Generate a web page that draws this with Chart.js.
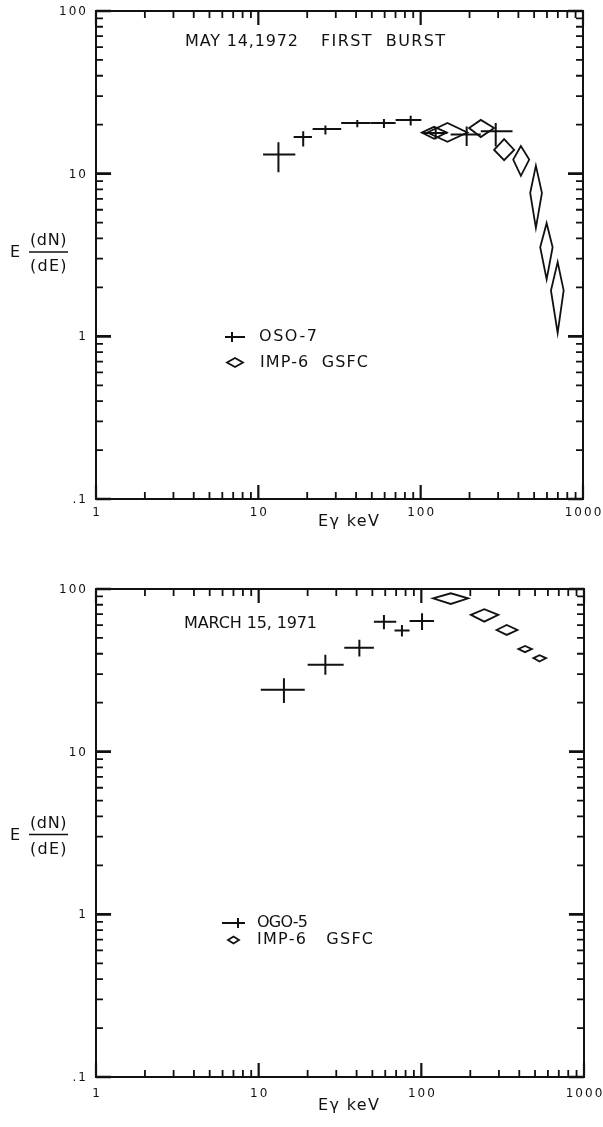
<!DOCTYPE html>
<html>
<head>
<meta charset="utf-8">
<script src="https://cdn.jsdelivr.net/npm/chart.js@4.4.1/dist/chart.umd.min.js"></script>
<style>
  html, body { margin: 0; padding: 0; background: #fff; }
  #wrap { position: relative; width: 603px; height: 1127px; }
  canvas { position: absolute; left: 0; }
  #top { top: 0; }
  #bottom { top: 560px; }
</style>
</head>
<body>
<div id="wrap">
  <canvas id="top" width="603" height="560"></canvas>
  <canvas id="bottom" width="603" height="567"></canvas>
</div>
<script>
// Axis ticks (log decades)
const xTickValues = [1, 10, 100, 1000];
const xTickLabels = ["1", "10", "100", "1000"];
const yTickValues = [0.1, 1, 10, 100];
const yTickLabels = [".1", "1", "10", "100"];

// May 14, 1972 first burst - OSO-7 (keV, E dN/dE, with bar ends)
const osoEnergy   = [13.3, 18.9, 25.9, 40.7, 59.4, 86.8, 123.8, 192, 290];
const osoEnergyLo = [10.7, 16.5, 21.6, 32.4, 49.1, 70.1, 102.4, 153, 234.6];
const osoEnergyHi = [16.9, 21.4, 32.4, 49.1, 70.1, 101, 146, 234.6, 368];
const osoFlux     = [13.1, 16.8, 18.8, 20.5, 20.5, 21.4, 17.8, 17.4, 18.2];
const osoFluxLo   = [10.2, 14.7, 17.4, 19.3, 19.1, 19.8, 16.3, 14.8, 14.7];
const osoFluxHi   = [15.6, 18.2, 19.8, 21.4, 21.7, 22.7, 19.1, 19.5, 20.5];

// May 14, 1972 - IMP-6 GSFC
const imp72Energy   = [121, 146.2, 234.6, 326.6, 414.3, 512.6, 597, 698];
const imp72EnergyLo = [101.6, 110, 198.7, 283.5, 371.5, 472.8, 545, 634.7];
const imp72EnergyHi = [144.8, 194, 283.5, 376.7, 466.4, 558.5, 650, 760];
const imp72Flux     = [17.9, 17.9, 19.1, 14.0, 12.2, 7.61, 3.53, 1.915];
const imp72FluxLo   = [16.4, 15.7, 16.8, 12.1, 9.7, 4.64, 2.24, 1.05];
const imp72FluxHi   = [19.4, 20.5, 21.4, 16.3, 14.8, 11.2, 4.96, 2.86];

// March 15, 1971 - OGO-5
const ogoEnergy   = [14.3, 25.7, 41.6, 58.9, 76, 101];
const ogoEnergyLo = [10.3, 20.0, 33.6, 51.1, 68.4, 84.7];
const ogoEnergyHi = [19.2, 33.3, 51.1, 70.1, 84.7, 119.7];
const ogoFlux     = [24.0, 34.2, 43.6, 63.0, 55.5, 63.6];
const ogoFluxLo   = [19.9, 29.7, 38.4, 56.6, 51.0, 56.0];
const ogoFluxHi   = [28.3, 39.4, 48.7, 69.2, 60.1, 71.0];

// March 15, 1971 - IMP-6 GSFC
const imp71Energy   = [151.7, 243.8, 334.7, 434, 532.8];
const imp71EnergyLo = [118, 201.5, 290, 395, 489];
const imp71EnergyHi = [194, 297.4, 389.7, 478, 585];
const imp71Flux     = [87.7, 69.3, 56.0, 42.8, 37.6];
const imp71FluxLo   = [80.9, 63.0, 52.2, 40.9, 35.8];
const imp71FluxHi   = [94.1, 75.1, 60.1, 44.7, 39.2];

const INK = "#111";

function toPoints(x, xLo, xHi, y, yLo, yHi) {
  return x.map((v, i) => ({ x: v, y: y[i], xMin: xLo[i], xMax: xHi[i], yMin: yLo[i], yMax: yHi[i] }));
}

// draw text stretched to cover [x0, x1]
function fitSpan(ctx, text, x0, x1, yc) {
  ctx.letterSpacing = "0px";
  const w = ctx.measureText(text).width;
  const n = [...text].length;
  const sp = n > 1 ? (x1 - x0 - w) / (n - 1) : 0;
  ctx.letterSpacing = sp.toFixed(2) + "px";
  ctx.textAlign = "left";
  ctx.textBaseline = "middle";
  ctx.fillText(text, x0, yc);
  ctx.letterSpacing = "0px";
}

function spacedText(ctx, text, x, yc, sp, align) {
  ctx.letterSpacing = "0px";
  const n = [...text].length;
  const w = ctx.measureText(text).width + sp * (n - 1);
  const left = align === "right" ? x - w : align === "center" ? x - w / 2 : x;
  ctx.letterSpacing = sp + "px";
  ctx.textAlign = "left";
  ctx.textBaseline = "middle";
  ctx.fillText(text, left, yc);
  ctx.letterSpacing = "0px";
}

function crossMark(ctx, x0, x1, y0, y1, px, py) {
  ctx.beginPath();
  ctx.moveTo(x0, py); ctx.lineTo(x1, py);
  ctx.moveTo(px, y0); ctx.lineTo(px, y1);
  ctx.stroke();
}

function diamondMark(ctx, x0, x1, yTop, yBot, px, py) {
  ctx.beginPath();
  ctx.moveTo(x0, py);
  ctx.lineTo(px, yTop);
  ctx.lineTo(x1, py);
  ctx.lineTo(px, yBot);
  ctx.closePath();
  ctx.stroke();
}

// error crosses and diamonds, placed by the chart's own scales
const marksPlugin = {
  id: "marks",
  afterDatasetsDraw(chart) {
    const { ctx } = chart;
    const xs = chart.scales.x;
    const ys = chart.scales.y;
    ctx.save();
    ctx.strokeStyle = INK;
    ctx.lineJoin = "miter";
    chart.data.datasets.forEach((ds) => {
      ds.data.forEach((p) => {
        const px = xs.getPixelForValue(p.x);
        const py = ys.getPixelForValue(p.y);
        const x0 = xs.getPixelForValue(p.xMin);
        const x1 = xs.getPixelForValue(p.xMax);
        const yTop = ys.getPixelForValue(p.yMax);
        const yBot = ys.getPixelForValue(p.yMin);
        if (ds.mark === "cross") {
          ctx.lineWidth = 2;
          crossMark(ctx, x0, x1, yBot, yTop, px, py);
        } else {
          ctx.lineWidth = 1.8;
          diamondMark(ctx, x0, x1, yTop, yBot, px, py);
        }
      });
    });
    ctx.restore();
  },
};

// frame, inward ticks, labels and annotations
const framePlugin = {
  id: "frame",
  afterDraw(chart, args, opts) {
    const { ctx, chartArea: a } = chart;
    const xs = chart.scales.x;
    const ys = chart.scales.y;
    ctx.save();
    ctx.strokeStyle = INK;
    ctx.fillStyle = INK;

    ctx.lineWidth = 2;
    ctx.strokeRect(a.left, a.top, a.right - a.left, a.bottom - a.top);

    const minors = (vals) => {
      const out = [];
      for (let i = 0; i < vals.length - 1; i++) {
        for (let m = 2; m <= 9; m++) out.push(vals[i] * m);
      }
      return out;
    };

    // x ticks top and bottom
    const drawX = (v, len, w) => {
      const px = xs.getPixelForValue(v);
      ctx.lineWidth = w;
      ctx.beginPath();
      ctx.moveTo(px, a.bottom); ctx.lineTo(px, a.bottom - len);
      ctx.moveTo(px, a.top); ctx.lineTo(px, a.top + len);
      ctx.stroke();
    };
    const drawY = (v, len, w) => {
      const py = ys.getPixelForValue(v);
      ctx.lineWidth = w;
      ctx.beginPath();
      ctx.moveTo(a.left, py); ctx.lineTo(a.left + len, py);
      ctx.moveTo(a.right, py); ctx.lineTo(a.right - len, py);
      ctx.stroke();
    };
    minors(xTickValues).forEach((v) => drawX(v, 7, 1.8));
    xTickValues.forEach((v) => drawX(v, 14, 2.2));
    minors(yTickValues).forEach((v) => drawY(v, 7, 1.8));
    yTickValues.forEach((v) => drawY(v, 15, 2.6));

    // tick labels
    ctx.font = "12px 'DejaVu Sans'";
    xTickValues.forEach((v, i) => {
      spacedText(ctx, xTickLabels[i], xs.getPixelForValue(v), a.bottom + opts.xLabelGap, 2, "center");
    });
    yTickValues.forEach((v, i) => {
      spacedText(ctx, yTickLabels[i], a.left - 10, ys.getPixelForValue(v) + 1, 2, "right");
    });

    // annotation text
    ctx.font = "16px 'DejaVu Sans'";
    opts.title.forEach((t) => fitSpan(ctx, t.text, t.x0, t.x1, t.y));
    fitSpan(ctx, "E\u03b3 keV", 318, 379, opts.xTitleY);

    // y axis title: E (dN)/(dE)
    const yt = opts.yTitle;
    fitSpan(ctx, "E", 10, 17.5, yt.e);
    fitSpan(ctx, "(dN)", 30, 66.5, yt.num);
    fitSpan(ctx, "(dE)", 30, 66.5, yt.den);
    ctx.lineWidth = 1.5;
    ctx.beginPath();
    ctx.moveTo(29, yt.bar); ctx.lineTo(68, yt.bar);
    ctx.stroke();

    // legend
    const lg = opts.legend;
    chart.data.datasets.forEach((ds, i) => {
      const row = lg.rows[i];
      if (ds.mark === "cross") {
        ctx.lineWidth = 2;
        crossMark(ctx, row.sx0, row.sx1, row.y - 5, row.y + 5, row.vx, row.y);
      } else {
        ctx.lineWidth = 1.8;
        diamondMark(ctx, row.sx0, row.sx1, row.y - row.h / 2, row.y + row.h / 2, (row.sx0 + row.sx1) / 2, row.y);
      }
      ctx.font = "16px 'DejaVu Sans'";
      fitSpan(ctx, ds.label, row.tx0, row.tx1, row.y);
    });

    ctx.restore();
  },
};

function makePanel(canvasId, datasets, frameOpts, padding) {
  const ctx = document.getElementById(canvasId).getContext("2d");
  return new Chart(ctx, {
    type: "scatter",
    data: { datasets: datasets },
    options: {
      responsive: false,
      animation: false,
      events: [],
      layout: { padding: padding },
      scales: {
        x: { type: "logarithmic", min: 1, max: 1000, display: false },
        y: { type: "logarithmic", min: 0.1, max: 100, display: false },
      },
      plugins: {
        legend: { display: false },
        tooltip: { enabled: false },
        frame: frameOpts,
      },
    },
    plugins: [marksPlugin, framePlugin],
  });
}

makePanel(
  "top",
  [
    {
      label: "OSO-7",
      mark: "cross",
      data: toPoints(osoEnergy, osoEnergyLo, osoEnergyHi, osoFlux, osoFluxLo, osoFluxHi),
      pointRadius: 0,
    },
    {
      label: "IMP-6  GSFC",
      mark: "diamond",
      data: toPoints(imp72Energy, imp72EnergyLo, imp72EnergyHi, imp72Flux, imp72FluxLo, imp72FluxHi),
      pointRadius: 0,
    },
  ],
  {
    title: [
      { text: "MAY 14,1972", x0: 185, x1: 298, y: 42 },
      { text: "FIRST  BURST", x0: 321, x1: 445, y: 42 },
    ],
    xLabelGap: 14,
    xTitleY: 522,
    yTitle: { e: 253, num: 241, bar: 252, den: 266.5 },
    legend: {
      rows: [
        { sx0: 225, sx1: 245, vx: 232, y: 337, tx0: 259, tx1: 317 },
        { sx0: 227, sx1: 243, h: 9, y: 362.5, tx0: 260, tx1: 368 },
      ],
    },
  },
  { left: 96, top: 11, right: 20, bottom: 61 }
);

makePanel(
  "bottom",
  [
    {
      label: "OGO-5",
      mark: "cross",
      data: toPoints(ogoEnergy, ogoEnergyLo, ogoEnergyHi, ogoFlux, ogoFluxLo, ogoFluxHi),
      pointRadius: 0,
    },
    {
      label: "IMP-6   GSFC",
      mark: "diamond",
      data: toPoints(imp71Energy, imp71EnergyLo, imp71EnergyHi, imp71Flux, imp71FluxLo, imp71FluxHi),
      pointRadius: 0,
    },
  ],
  {
    title: [{ text: "MARCH 15, 1971", x0: 184, x1: 317, y: 64 }],
    xLabelGap: 17,
    xTitleY: 546,
    yTitle: { e: 276, num: 263.5, bar: 274.5, den: 289.5 },
    legend: {
      rows: [
        { sx0: 222, sx1: 245, vx: 238, y: 363, tx0: 257, tx1: 308 },
        { sx0: 228, sx1: 239, h: 7, y: 380, tx0: 257, tx1: 373 },
      ],
    },
  },
  { left: 96, top: 29, right: 19, bottom: 50 }
);
</script>
</body>
</html>
